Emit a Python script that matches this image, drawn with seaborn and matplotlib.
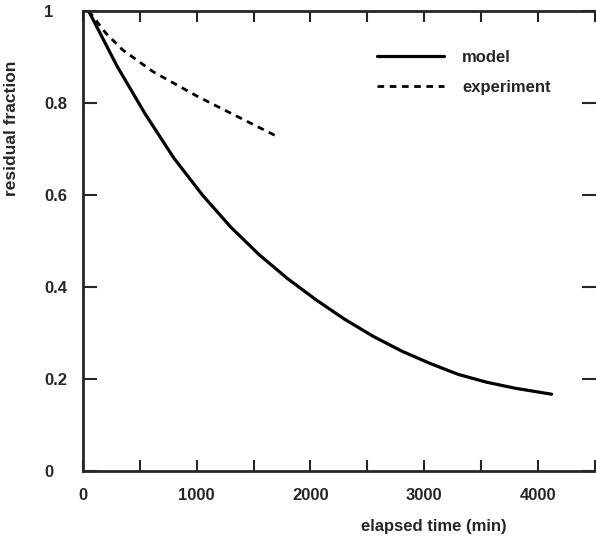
import numpy as np
import pandas as pd
import matplotlib
matplotlib.use("Agg")
import matplotlib.pyplot as plt
import seaborn as sns

# values
model_t = [50, 300, 550, 800, 1050, 1300, 1550, 1800, 2050, 2300, 2550, 2800, 3050, 3300, 3550, 3800, 4120]
model_y = [1.0, 0.88, 0.775, 0.68, 0.60, 0.53, 0.47, 0.418, 0.372, 0.33, 0.293, 0.261, 0.234, 0.21, 0.193, 0.18, 0.167]

exp_t = [50, 200, 350, 615, 1000, 1320, 1715]
exp_y = [1.0, 0.952, 0.915, 0.868, 0.815, 0.775, 0.726]

x_ticks = [0, 1000, 2000, 3000, 4000]
y_ticks = [0, 0.2, 0.4, 0.6, 0.8, 1]
y_tick_labels = ["0", "0.2", "0.4", "0.6", "0.8", "1"]

sns.set_style("ticks")
plt.rcParams["font.family"] = ["Liberation Sans", "DejaVu Sans"]

fig = plt.figure(figsize=(5.96, 5.39), dpi=100)
ax = fig.add_axes([0.139, 0.126, 0.861, 0.854])

sns.lineplot(x=model_t, y=model_y, ax=ax, color="black", lw=2.3, label="model")
sns.lineplot(x=exp_t, y=exp_y, ax=ax, color="black", lw=2.0, label="experiment",
             linestyle=(0, (2.4, 2.0)))

ax.set_xlim(0, 4510)
ax.set_ylim(0, 1)
ax.set_xticks(x_ticks)
ax.set_xticks(np.arange(500, 4501, 1000), minor=True)
ax.set_yticks(y_ticks)
ax.set_yticklabels(y_tick_labels)

ax.tick_params(axis="x", which="both", direction="in", length=8, width=1.5,
               top=True, bottom=True, pad=12, labelsize=12)
ax.tick_params(axis="y", which="both", direction="in", length=10, width=1.5,
               left=True, right=True, pad=28, labelsize=12)
for lbl in ax.get_xticklabels() + ax.get_yticklabels():
    lbl.set_fontweight("bold")
for lbl in ax.get_yticklabels():
    lbl.set_ha("left")

for side in ["left", "bottom", "top"]:
    ax.spines[side].set_linewidth(2)
ax.spines["right"].set_visible(False)

ax.set_xlabel("elapsed time (min)", fontsize=12, fontweight="bold")
ax.xaxis.set_label_coords(0.684, -0.105)
ax.set_ylabel("residual fraction", fontsize=12.5, fontweight="bold")
ax.yaxis.set_label_coords(-0.125, 0.745)

leg = ax.legend(loc="upper left", bbox_to_anchor=(0.573, 0.915), frameon=False,
                handlelength=4, handletextpad=1.1, labelspacing=0.9,
                borderpad=0, borderaxespad=0, prop={"size": 12, "weight": "bold"})

fig.savefig("out.png", dpi=100)
